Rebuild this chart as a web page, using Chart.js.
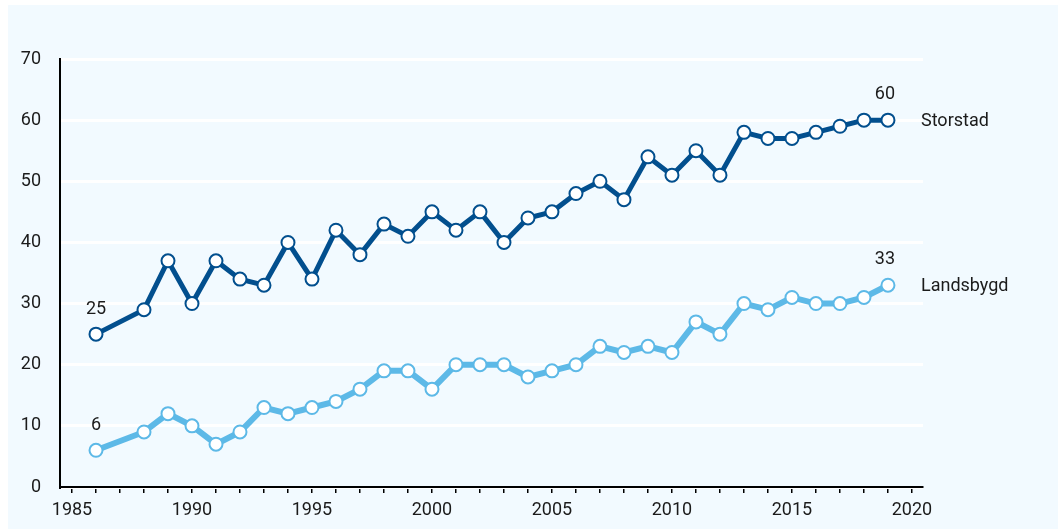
<!DOCTYPE html>
<html>
<head>
<meta charset="utf-8">
<script src="https://cdn.jsdelivr.net/npm/chart.js@4"></script>
<style>
    html, body { margin: 0; padding: 0; background: #ffffff; }
    #wrap { position: relative; width: 1058px; height: 529px; }
</style>
</head>
<body>
<div id="wrap"><canvas id="lineChart" width="1058" height="529"></canvas></div>
<script>
const years = [1986, 1988, 1989, 1990, 1991, 1992, 1993, 1994, 1995, 1996, 1997, 1998, 1999, 2000, 2001,
    2002, 2003, 2004, 2005, 2006, 2007, 2008, 2009, 2010, 2011, 2012, 2013, 2014, 2015, 2016, 2017, 2018, 2019];
const storstad = [25, 29, 37, 30, 37, 34, 33, 40, 34, 42, 38, 43, 41, 45, 42,
    45, 40, 44, 45, 48, 50, 47, 54, 51, 55, 51, 58, 57, 57, 58, 59, 60, 60];
const landsbygd = [6, 9, 12, 10, 7, 9, 13, 12, 13, 14, 16, 19, 19, 16, 20,
    20, 20, 18, 19, 20, 23, 22, 23, 22, 27, 25, 30, 29, 31, 30, 30, 31, 33];
const seriesNames = ['Storstad', 'Landsbygd'];
const xTickYears = [];
for (let y = 1985; y <= 2020; y++) xTickYears.push(y);
const yTicks = [0, 10, 20, 30, 40, 50, 60, 70];

const darkBlue = '#024f8e';
const lightBlue = '#5db9e7';
const textColor = '#1b1b1b';
const fontFamily = 'Roboto, "Noto Sans", sans-serif';

const backgroundPlugin = {
    id: 'bg',
    beforeDraw(chart) {
        const ctx = chart.ctx;
        ctx.save();
        ctx.fillStyle = '#f2faff';
        ctx.fillRect(8, 5, chart.width - 8, chart.height - 5);
        ctx.restore();
    }
};

const labelPlugin = {
    id: 'labels',
    afterDatasetsDraw(chart) {
        const ctx = chart.ctx;
        const xs = chart.scales.x;
        const ys = chart.scales.y;
        ctx.save();
        ctx.fillStyle = textColor;
        ctx.font = '18px ' + fontFamily;
        ctx.textBaseline = 'middle';

        // first and last values above the points
        ctx.textAlign = 'center';
        [storstad, landsbygd].forEach(values => {
            const last = values.length - 1;
            ctx.fillText(String(values[0]), xs.getPixelForValue(years[0]), ys.getPixelForValue(values[0]) - 25);
            ctx.fillText(String(values[last]), xs.getPixelForValue(years[last]) - 3, ys.getPixelForValue(values[last]) - 26);
        });

        // series names to the right
        ctx.textAlign = 'left';
        [storstad, landsbygd].forEach((values, i) => {
            const last = values.length - 1;
            ctx.fillText(seriesNames[i], xs.getPixelForValue(years[last]) + 33, ys.getPixelForValue(values[last]) + 1);
        });
        ctx.restore();
    }
};

function makeDataset(label, values, color, width) {
    return {
        label: label,
        data: years.map((y, i) => ({ x: y, y: values[i] })),
        borderColor: color,
        borderWidth: width,
        pointRadius: 6.5,
        pointBorderWidth: 2,
        pointBackgroundColor: '#ffffff',
        pointBorderColor: color,
        tension: 0,
        clip: false
    };
}

const ctx = document.getElementById('lineChart').getContext('2d');
new Chart(ctx, {
    type: 'line',
    data: {
        datasets: [
            makeDataset(seriesNames[0], storstad, darkBlue, 5),
            makeDataset(seriesNames[1], landsbygd, lightBlue, 6)
        ]
    },
    options: {
        responsive: false,
        animation: false,
        layout: {
            padding: { top: 59, right: 135, bottom: 0, left: 0 }
        },
        plugins: {
            legend: { display: false },
            tooltip: { enabled: false }
        },
        scales: {
            x: {
                type: 'linear',
                min: 1984.5,
                max: 2020.46,
                afterFit: (scale) => { scale.height = 42; },
                afterBuildTicks: (scale) => { scale.ticks = xTickYears.map(v => ({ value: v })); },
                border: { display: true, color: '#000000', width: 2 },
                grid: {
                    display: true,
                    drawOnChartArea: false,
                    drawTicks: true,
                    tickLength: 6,
                    color: '#000000',
                    lineWidth: 1.5
                },
                ticks: {
                    autoSkip: false,
                    maxRotation: 0,
                    padding: 7,
                    color: textColor,
                    font: { family: fontFamily, size: 18 },
                    callback: (v) => (v % 5 === 0 ? String(v) : '')
                }
            },
            y: {
                min: 0,
                max: 70,
                afterFit: (scale) => { scale.width = 60; },
                afterBuildTicks: (scale) => { scale.ticks = yTicks.map(v => ({ value: v })); },
                border: { display: true, color: '#000000', width: 2 },
                grid: {
                    color: '#ffffff',
                    lineWidth: 3,
                    drawTicks: false
                },
                ticks: {
                    padding: 19,
                    color: textColor,
                    font: { family: fontFamily, size: 18 }
                }
            }
        }
    },
    plugins: [backgroundPlugin, labelPlugin]
});
</script>
</body>
</html>
